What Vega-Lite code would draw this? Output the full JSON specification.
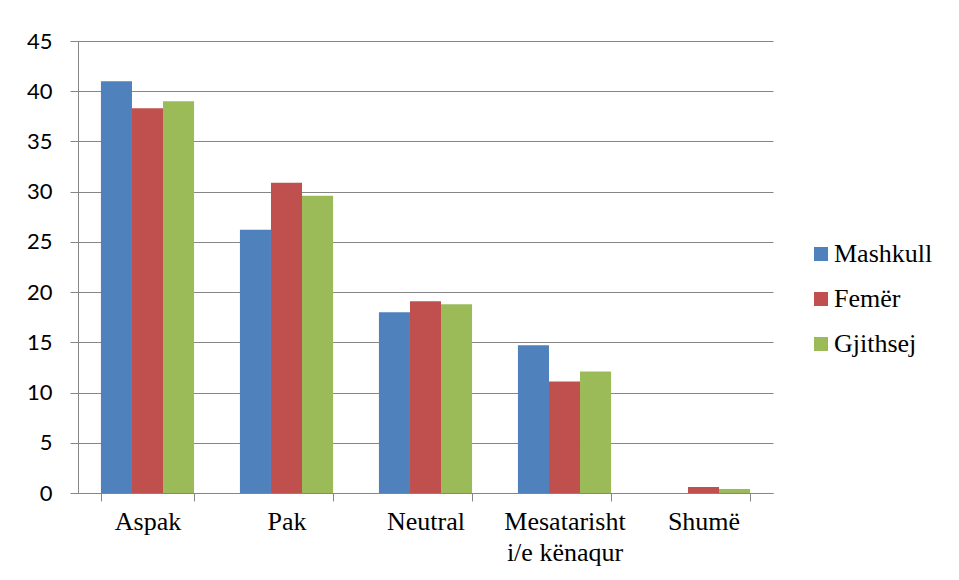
{
  "$schema": "https://vega.github.io/schema/vega-lite/v6.json",
  "autosize": {"type": "none"},
  "padding": {"left": 78, "top": 41, "right": 186, "bottom": 87},
  "width": 695,
  "height": 452,
  "background": "white",
  "data": {
    "values": [
      {"kategoria": "Aspak", "gjinia": "Mashkull", "vlera": 41.0},
      {"kategoria": "Aspak", "gjinia": "Femër", "vlera": 38.3},
      {"kategoria": "Aspak", "gjinia": "Gjithsej", "vlera": 39.0},
      {"kategoria": "Pak", "gjinia": "Mashkull", "vlera": 26.2},
      {"kategoria": "Pak", "gjinia": "Femër", "vlera": 30.9},
      {"kategoria": "Pak", "gjinia": "Gjithsej", "vlera": 29.6},
      {"kategoria": "Neutral", "gjinia": "Mashkull", "vlera": 18.0},
      {"kategoria": "Neutral", "gjinia": "Femër", "vlera": 19.1},
      {"kategoria": "Neutral", "gjinia": "Gjithsej", "vlera": 18.8},
      {"kategoria": "Mesatarisht i/e kënaqur", "gjinia": "Mashkull", "vlera": 14.7},
      {"kategoria": "Mesatarisht i/e kënaqur", "gjinia": "Femër", "vlera": 11.1},
      {"kategoria": "Mesatarisht i/e kënaqur", "gjinia": "Gjithsej", "vlera": 12.1},
      {"kategoria": "Shumë", "gjinia": "Mashkull", "vlera": 0},
      {"kategoria": "Shumë", "gjinia": "Femër", "vlera": 0.6},
      {"kategoria": "Shumë", "gjinia": "Gjithsej", "vlera": 0.4}
    ]
  },
  "mark": {"type": "bar"},
  "encoding": {
    "x": {
      "field": "kategoria",
      "type": "nominal",
      "sort": ["Aspak", "Pak", "Neutral", "Mesatarisht i/e kënaqur", "Shumë"],
      "scale": {"paddingInner": 0.33, "paddingOuter": 0.165},
      "axis": {
        "title": null,
        "labelAngle": 0,
        "labelFont": "Liberation Serif",
        "labelFontSize": 26,
        "labelColor": "black",
        "labelPadding": 7,
        "labelLineHeight": 31,
        "labelExpr": "datum.label == 'Mesatarisht i/e kënaqur' ? ['Mesatarisht', 'i/e kënaqur'] : datum.label",
        "tickBand": "extent",
        "tickSize": 8,
        "tickColor": "#868686",
        "domainColor": "#868686",
        "grid": false
      }
    },
    "xOffset": {
      "field": "gjinia",
      "type": "nominal",
      "sort": ["Mashkull", "Femër", "Gjithsej"],
      "scale": {"paddingInner": 0, "paddingOuter": 0}
    },
    "y": {
      "field": "vlera",
      "type": "quantitative",
      "scale": {"domain": [0, 45], "nice": false},
      "axis": {
        "title": null,
        "values": [0, 5, 10, 15, 20, 25, 30, 35, 40, 45],
        "labelFont": "Lato",
        "labelFontSize": 22,
        "labelColor": "black",
        "labelPadding": 18,
        "tickSize": 8,
        "tickColor": "#868686",
        "domainColor": "#868686",
        "gridColor": "#868686",
        "gridOpacity": 1
      }
    },
    "color": {
      "field": "gjinia",
      "type": "nominal",
      "sort": ["Mashkull", "Femër", "Gjithsej"],
      "scale": {"domain": ["Mashkull", "Femër", "Gjithsej"], "range": ["#4F81BD", "#C0504D", "#9BBB59"]},
      "legend": {
        "title": null,
        "orient": "none",
        "legendX": 730,
        "legendY": 200,
        "padding": 0,
        "symbolType": "square",
        "symbolSize": 196,
        "symbolStrokeWidth": 0,
        "symbolOpacity": 1,
        "labelFont": "Liberation Serif",
        "labelFontSize": 26,
        "labelColor": "black",
        "labelOffset": 0,
        "rowPadding": 19
      }
    }
  },
  "config": {
    "view": {"stroke": null}
  }
}
